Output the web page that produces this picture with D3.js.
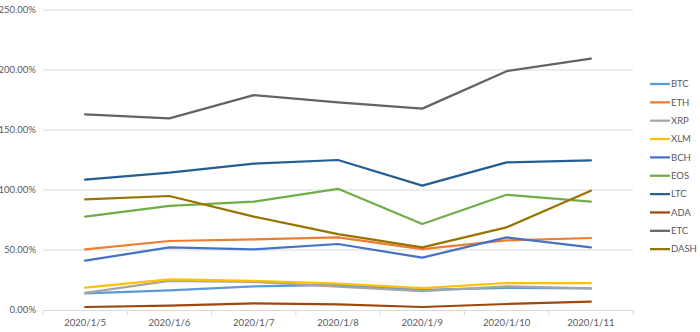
<!DOCTYPE html>
<html><head><meta charset="utf-8">
<script src="https://cdn.jsdelivr.net/npm/d3@7"></script>
<style>body{margin:0;background:#fff;}svg{display:block;font-family:Lato,"Liberation Sans",sans-serif;}</style>
</head><body><svg id="c" width="700" height="332"></svg>
<script>
const categories = ["2020/1/5","2020/1/6","2020/1/7","2020/1/8","2020/1/9","2020/1/10","2020/1/11"];
const seriesNames = ["BTC","ETH","XRP","XLM","BCH","EOS","LTC","ADA","ETC","DASH"];
const colors = ["#5B9BD5","#ED7D31","#A5A5A5","#FFC000","#4472C4","#70AD47","#255E91","#9E480E","#636363","#997300"];
const BTC  = [13.9, 16.4, 19.7, 21.0, 16.7, 18.5, 18.0];
const ETH  = [50.6, 57.5, 58.9, 60.5, 50.8, 58.0, 60.0];
const XRP  = [14.2, 24.2, 23.5, 19.5, 15.8, 19.7, 18.0];
const XLM  = [18.6, 25.5, 24.2, 22.0, 18.3, 22.5, 22.5];
const BCH  = [41.1, 52.2, 50.6, 55.0, 43.6, 60.5, 52.2];
const EOS  = [77.8, 86.7, 90.3, 101.0, 71.7, 96.0, 90.3];
const LTC  = [108.6, 114.4, 122.0, 125.0, 103.6, 123.0, 124.7];
const ADA  = [2.5, 3.6, 5.6, 4.7, 2.5, 5.0, 6.9];
const ETC  = [163.0, 159.7, 179.0, 173.0, 167.8, 199.0, 209.5];
const DASH = [92.2, 95.0, 77.8, 63.3, 52.2, 68.9, 99.4];
const yTicks = [0, 50, 100, 150, 200, 250];

(function () {
const seriesValues = [BTC, ETH, XRP, XLM, BCH, EOS, LTC, ADA, ETC, DASH];
const svg = d3.select("#c");
const pL = 43, pR = 633, pT = 10, pB = 310;

const x = d3.scaleBand().domain(categories).range([pL, pR]);
const y = d3.scaleLinear().domain([0, 250]).range([pB, pT]);

svg.append("g").selectAll("line").data(yTicks.filter(d => d > 0)).join("line")
  .attr("x1", pL).attr("x2", pR)
  .attr("y1", d => y(d)).attr("y2", d => y(d))
  .attr("stroke", "#d9d9d9").attr("stroke-width", 1);

svg.append("g").selectAll("text").data(yTicks).join("text")
  .attr("x", 36).attr("y", d => y(d)).attr("dy", "0.35em")
  .attr("text-anchor", "end").attr("font-size", 9.5).attr("fill", "#595959")
  .text(d => d.toFixed(2) + "%");

const xAxis = d3.axisBottom(x).tickSize(0).tickPadding(9);
const gx = svg.append("g").attr("transform", `translate(0,${pB})`).call(xAxis);
gx.select(".domain").attr("stroke", "#d9d9d9");
gx.selectAll("text").attr("font-size", 9.5).attr("fill", "#595959").attr("font-family", "Lato,'Liberation Sans',sans-serif");
const bounds = categories.map(c => x(c)).concat([pR]);
svg.append("g").selectAll("line").data(bounds).join("line")
  .attr("x1", d => d).attr("x2", d => d)
  .attr("y1", pB).attr("y2", pB + 5)
  .attr("stroke", "#d9d9d9");

const line = d3.line().x((d, i) => x(categories[i]) + x.bandwidth() / 2).y(d => y(d));
svg.append("g").selectAll("path").data(seriesValues).join("path")
  .attr("d", d => line(d)).attr("fill", "none")
  .attr("stroke", (d, i) => colors[i]).attr("stroke-width", 2.25)
  .attr("stroke-linejoin", "round").attr("stroke-linecap", "round");

const lg = svg.append("g").selectAll("g").data(seriesNames).join("g")
  .attr("transform", (d, i) => `translate(650,${84 + i * 18.35})`);
lg.append("line").attr("x1", 0).attr("x2", 20).attr("stroke", (d, i) => colors[i]).attr("stroke-width", 2.25);
lg.append("text").attr("x", 21).attr("dy", "0.35em").attr("font-size", 9.5).attr("fill", "#595959").text(d => d);
})();
</script></body></html>
